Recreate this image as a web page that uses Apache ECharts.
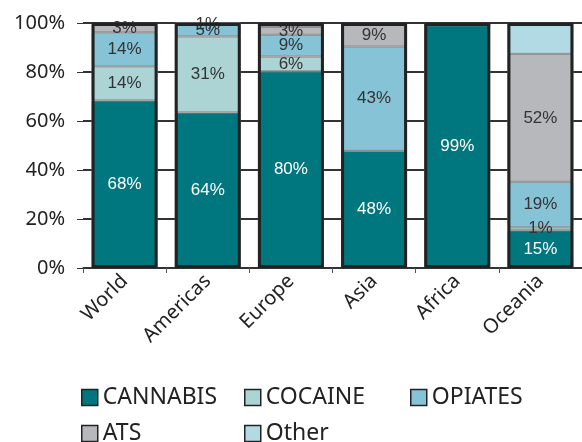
<!DOCTYPE html>
<html><head><meta charset="utf-8">
<script src="https://cdn.jsdelivr.net/npm/echarts@6/dist/echarts.min.js"></script>
<style>html,body{margin:0;padding:0;background:#fff}#c{width:582px;height:442px}</style>
</head><body><div id="c"></div>
<script>
const categories = ['World', 'Americas', 'Europe', 'Asia', 'Africa', 'Oceania'];
const cannabis = [68.4, 63.5, 80.3, 47.8, 99.1, 15.4];
const cocaine  = [13.9, 31.0, 6.0, 0, 0, 1.2];
const opiates  = [13.9, 4.8, 8.9, 42.6, 0, 18.6];
const ats      = [3.1, 0.5, 3.2, 8.9, 0, 52.2];
const other    = [0.7, 0.2, 1.6, 0.7, 0.9, 12.6];
const yTicks = [0, 20, 40, 60, 80, 100];

const totals = categories.map((_, i) => cannabis[i] + cocaine[i] + opiates[i] + ats[i] + other[i]);
const fontAxis = '"Noto Sans", sans-serif';
const fontLbl = '"Liberation Sans", Arial, sans-serif';

function seg(name, data, color, labelColor, showLabel) {
  return {
    name, type: 'bar', stack: 'total', data, barWidth: 66,
    itemStyle: { color, borderColor: '#8a8a8a', borderWidth: 1 },
    label: {
      show: showLabel, position: 'inside', color: labelColor,
      fontFamily: fontLbl, fontSize: 17,
      formatter: p => p.value > 0 ? Math.round(p.value) + '%' : ''
    }
  };
}
function leg(name, left, top) {
  return {
    data: [name], left, top, itemWidth: 16, itemHeight: 16, itemGap: 0,
    icon: 'rect', selectedMode: false, padding: 0,
    textStyle: { fontFamily: fontAxis, fontSize: 23, color: '#222' },
    itemStyle: { borderColor: '#222', borderWidth: 1.5 }
  };
}
const chart = echarts.init(document.getElementById('c'));
chart.setOption({
  animation: false,
  grid: { left: 83, right: 0, top: 23, bottom: 174 },
  legend: [
    leg('CANNABIS', 81, 386),
    leg('COCAINE', 244, 386),
    leg('OPIATES', 410, 386),
    leg('ATS', 81, 422),
    leg('Other', 244, 422)
  ],
  xAxis: {
    type: 'category', data: categories,
    axisLine: { lineStyle: { color: '#333', width: 1.5 } },
    axisTick: { show: true, length: 5, lineStyle: { color: '#555' } },
    axisLabel: { rotate: 45, margin: 10, fontFamily: fontAxis, fontSize: 20, color: '#222' }
  },
  yAxis: {
    type: 'value', min: 0, max: 100, interval: 20,
    axisLine: { show: false },
    axisTick: { show: true, length: 6, lineStyle: { color: '#333' } },
    splitLine: { lineStyle: { color: '#333', width: 1.8 } },
    axisLabel: { margin: 18, fontFamily: fontAxis, fontSize: 20, color: '#222',
      formatter: v => yTicks.includes(v) ? v + '%' : '' }
  },
  series: [
    seg('CANNABIS', cannabis, '#00777f', '#ffffff', true),
    seg('COCAINE', cocaine, '#acd4d4', '#333', true),
    seg('OPIATES', opiates, '#86c3d6', '#333', true),
    seg('ATS', ats, '#b7b8bc', '#333', true),
    seg('Other', other, '#b1dae4', '#333', false),
    {
      name: 'frame', type: 'bar', data: totals, barWidth: 66, barGap: '-100%',
      silent: true, z: 5,
      itemStyle: { color: 'rgba(0,0,0,0)', borderColor: '#222', borderWidth: 3 },
      label: { show: false }
    }
  ]
});
</script></body></html>
